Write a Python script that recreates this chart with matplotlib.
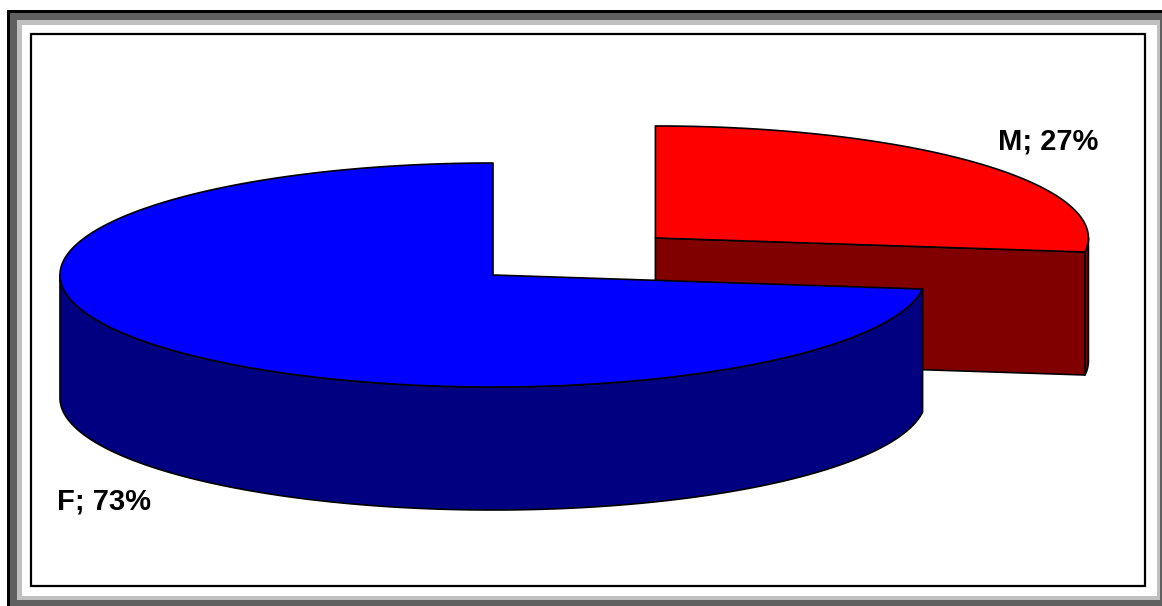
import numpy as np
import matplotlib
matplotlib.use("Agg")
import matplotlib.pyplot as plt
from matplotlib.patches import Polygon, Rectangle

# share of respondents by sex
labels = ['F', 'M']
shares = [73, 27]
top_colors = ['#0000ff', '#ff0000']
side_colors = ['#000080', '#800000']

W, H = 1162, 606
fig = plt.figure(figsize=(W / 100, H / 100), dpi=100)
ax = fig.add_axes([0, 0, 1, 1])
ax.set_xlim(0, W)
ax.set_ylim(H, 0)
ax.axis('off')

# chart frame: black outline, grey bevel, white area, thin inner border
ax.add_patch(Rectangle((7, 10), W, H, facecolor='black', lw=0))
ax.add_patch(Rectangle((10, 13), W, H, facecolor='#606060', lw=0))
ax.add_patch(Rectangle((17, 20), 1160 - 17, 600 - 20, facecolor='#c0c0c0', lw=0))
ax.add_patch(Rectangle((22, 25), 1157 - 22, 596 - 25, facecolor='white', lw=0))
ax.add_patch(Rectangle((31, 34), 1145 - 31, 586 - 34, facecolor='white',
                       edgecolor='black', lw=1.6))

# 3d pie geometry (screen units, y grows downward)
cx, cy = 493, 275
a, b = 433, 112
depth = 123
explode = [0.0, 0.5]
start = 90.0


def pt(c, t):
    t = np.radians(t)
    return np.column_stack([c[0] + a * np.cos(t), c[1] - b * np.sin(t)])


slices = []
ang = start
for lab, s, ex in zip(labels, shares, explode):
    span = 360.0 * s / sum(shares)
    t0, t1 = ang, ang + span
    mid = np.radians((t0 + t1) / 2)
    c = (cx + ex * a * np.cos(mid), cy - ex * b * np.sin(mid))
    slices.append((lab, s, c, t0, t1))
    ang = t1

ek = dict(edgecolor='black', lw=1.2, joinstyle='round')

# exploded slice first, it sits behind
for i in [1, 0]:
    lab, s, c, t0, t1 = slices[i]
    # curved outer wall, only the front half shows
    for lo, hi in [(180, 360), (540, 720)]:
        w0, w1 = max(t0, lo), min(t1, hi)
        if w1 > w0:
            t = np.linspace(w0, w1, 300)
            top = pt(c, t)
            bot = top + [0, depth]
            ax.add_patch(Polygon(np.vstack([top, bot[::-1]]),
                                 facecolor=side_colors[i], **ek))
    # radial walls facing the viewer
    for t_edge, vis in [(t0, np.cos(np.radians(t0)) > 1e-6),
                        (t1, np.cos(np.radians(t1)) < -1e-6)]:
        if vis:
            e = pt(c, [t_edge])[0]
            quad = [c, e, e + [0, depth], (c[0], c[1] + depth)]
            ax.add_patch(Polygon(quad, facecolor=side_colors[i], **ek))
    # top face
    t = np.linspace(t0, t1, 400)
    poly = np.vstack([[c], pt(c, t)])
    ax.add_patch(Polygon(poly, facecolor=top_colors[i], **ek))

# data labels
lab_pos = {'F': (57, 510), 'M': (998, 150)}
for lab, s, c, t0, t1 in slices:
    x, y = lab_pos[lab]
    ax.text(x, y, f'{lab}; {s}%', ha='left', va='baseline',
            fontsize=21, fontweight='bold', family='Liberation Sans')

fig.savefig('out.png', dpi=100)
